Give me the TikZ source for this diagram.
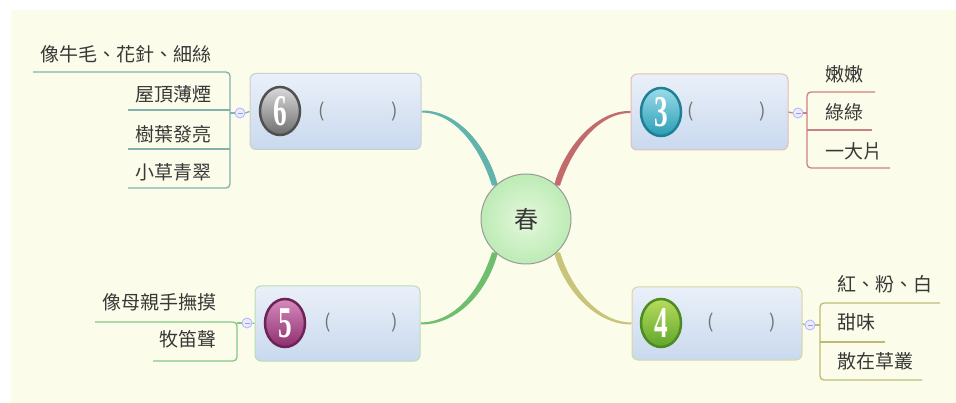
\documentclass[tikz,border=0pt]{standalone}
\usepackage{fontspec}
\setmainfont{Noto Sans CJK TC}
\newfontfamily\numfont[FakeStretch=0.62]{Liberation Serif}
\usetikzlibrary{calc,shapes.geometric}
\pgfdeclarelayer{bg}
\pgfsetlayers{bg,main}
\definecolor{cream}{HTML}{FCFCEA}
\definecolor{txt}{HTML}{383838}
\definecolor{cteal}{HTML}{62B3AC}
\definecolor{cred}{HTML}{C26B6B}
\definecolor{cgreen}{HTML}{6EBE6E}
\definecolor{colive}{HTML}{C8C47A}
\definecolor{boxtop}{HTML}{EAF0F9}
\definecolor{boxbot}{HTML}{C9D9EE}
\definecolor{ctrin}{HTML}{E4F8DC}
\definecolor{ctrout}{HTML}{BDEBB5}
\tikzset{
  leaf/.style={font=\fontsize{19}{22}\selectfont, text=txt, inner sep=0pt},
  topbox/.style={rectangle, rounded corners=6pt, minimum width=#1, top color=boxtop, bottom color=boxbot, line width=1pt, inner sep=0pt, minimum height=76pt},
  paren/.style={font=\fontsize{19}{22}\selectfont, text=black!55, inner sep=0pt},
  icon/.style={ellipse, minimum width=40pt, minimum height=48pt, inner sep=0pt, line width=2.5pt, text=white, font=\numfont\bfseries\fontsize{44}{44}\selectfont},
  minus/.style={circle, minimum size=10pt, inner sep=0pt, fill=blue!8, draw=blue!30, line width=0.8pt},
  uline/.style={line width=1.3pt, rounded corners=4pt},
}
\begin{document}
\begin{tikzpicture}[x=1pt,y=-1pt]
\useasboundingbox (0,0) rectangle (956,403);
\begin{pgfonlayer}{bg}
\fill[white] (0,0) rectangle (956,403);
\fill[cream] (11,10) rectangle (956,403);
\end{pgfonlayer}

% center
\node[circle, minimum size=90pt, inner sep=0pt, draw=black!40, line width=1pt, shading=radial, inner color=ctrin, outer color=ctrout, text=txt, font=\fontsize{24}{26}\selectfont] (spring) at (526,219) {春};

% boxes
\node[topbox=171pt, draw=cteal!40!black!25!white] (b6) at (335.5,111.5) {};
\node[topbox=157pt, draw=cred!45!white] (b3) at (709.5,112) {};
\node[topbox=165pt, draw=cgreen!50!white, minimum height=75pt] (b5) at (337.5,323.5) {};
\node[topbox=170pt, draw=colive!70!white, minimum height=73pt] (b4) at (717,323.5) {};

% icons
\definecolor{g6a}{HTML}{DADADA}\definecolor{g6b}{HTML}{6E6E6E}\definecolor{g6c}{HTML}{505050}
\definecolor{g3a}{HTML}{9ADCE8}\definecolor{g3b}{HTML}{2A9DB5}\definecolor{g3c}{HTML}{1E7F95}
\definecolor{g5a}{HTML}{D58BBE}\definecolor{g5b}{HTML}{8E2E6E}\definecolor{g5c}{HTML}{6E2356}
\definecolor{g4a}{HTML}{B8DC5E}\definecolor{g4b}{HTML}{5FA62A}\definecolor{g4c}{HTML}{4C8A22}
\node[icon, draw=g6c, top color=g6a, bottom color=g6b] (i6) at (280,111) {6};
\node[icon, draw=g3c, top color=g3a, bottom color=g3b] (i3) at (661,112) {3};
\node[icon, draw=g5c, top color=g5a, bottom color=g5b] (i5) at (285,323) {5};
\node[icon, draw=g4c, top color=g4a, bottom color=g4b] (i4) at (661,323) {4};

% parens
\node[paren] (p6l) at (322,112) {(};
\node[paren] (p6r) at (395,112) {)};
\node[paren] (p3l) at (691,112) {(};
\node[paren] (p3r) at (763,112) {)};
\node[paren] (p5l) at (328,323) {(};
\node[paren] (p5r) at (395,323) {)};
\node[paren] (p4l) at (711,323) {(};
\node[paren] (p4r) at (773,323) {)};

% branches
\begin{pgfonlayer}{bg}
\fill[cteal] ($(b6.east)+(0,-1)$) .. controls (460,110) and (489,150) .. ($(spring.133)+(3,0)$)
  -- ($(spring.133)+(-3,0)$) .. controls (482,153) and (458,113) .. ($(b6.east)+(0,1)$) -- cycle;
\fill[cred] ($(b3.west)+(0,-1)$) .. controls (595,110) and (563,150) .. ($(spring.47)+(-3,0)$)
  -- ($(spring.47)+(3,0)$) .. controls (570,153) and (596,113) .. ($(b3.west)+(0,1)$) -- cycle;
\fill[cgreen] ($(b5.east)+(0,1)$) .. controls (460,325) and (489,288) .. ($(spring.227)+(3,0)$)
  -- ($(spring.227)+(-3,0)$) .. controls (482,285) and (458,322) .. ($(b5.east)+(0,-1)$) -- cycle;
\fill[colive] ($(b4.west)+(0,1)$) .. controls (595,325) and (563,288) .. ($(spring.313)+(-3,0)$)
  -- ($(spring.313)+(3,0)$) .. controls (570,285) and (596,322) .. ($(b4.west)+(0,-1)$) -- cycle;
\end{pgfonlayer}

% collapse markers
\node[minus] (m6) at (240,113) {};
\node[minus] (m3) at (798,113) {};
\node[minus] (m5) at (247,323) {};
\node[minus] (m4) at (810,325) {};
\foreach \m in {m6,m3,m5,m4}{\draw[blue!40, line width=0.7pt] ($(\m.center)+(-2.5,0)$) -- ($(\m.center)+(2.5,0)$);}

% ---- group 6 (left top)
\node[leaf, anchor=base east] (l61) at (212,62) {像牛毛、花針、細絲};
\node[leaf, anchor=base east] (l62) at (212,102) {屋頂薄煙};
\node[leaf, anchor=base east] (l63) at (212,142) {樹葉發亮};
\node[leaf, anchor=base east] (l64) at (212,180) {小草青翠};
\coordinate (j6) at (230,113);
\begin{scope}[draw=cteal!80!black!70!white]
\draw[line width=1.3pt] (b6.west) -- (m6.east);
\draw[line width=1.3pt] (m6.west) -- (j6);
\draw[uline] (33,72) -| (230,188) -- (128,188);
\draw[uline] (230,110) -- (128,110);
\draw[uline] (230,149) -- (128,149);
\end{scope}

% ---- group 3 (right top)
\node[leaf, anchor=base west] (l31) at (825,82) {嫩嫩};
\node[leaf, anchor=base west] (l32) at (825,120) {綠綠};
\node[leaf, anchor=base west] (l33) at (825,159) {一大片};
\coordinate (j3) at (807,113);
\begin{scope}[draw=cred!85!white]
\draw[line width=1.3pt] (b3.east) -- (m3.west);
\draw[line width=1.3pt] (m3.east) -- (j3);
\draw[uline] (875,92) -| (807,168) -- (890,168);
\draw[uline] (807,130) -- (872,130);
\end{scope}

% ---- group 5 (left bottom)
\node[leaf, anchor=base east] (l51) at (217,310) {像母親手撫摸};
\node[leaf, anchor=base east] (l52) at (217,347) {牧笛聲};
\coordinate (j5) at (237,323);
\begin{scope}[draw=cgreen!85!white]
\draw[line width=1.3pt] (b5.west) -- (m5.east);
\draw[line width=1.3pt] (m5.west) -- (j5);
\draw[uline] (95,322) -| (237,361) -- (153,361);
\end{scope}

% ---- group 4 (right bottom)
\node[leaf, anchor=base west] (l41) at (837,292) {紅、粉、白};
\node[leaf, anchor=base west] (l42) at (837,330) {甜味};
\node[leaf, anchor=base west] (l43) at (837,369) {散在草叢};
\coordinate (j4) at (820,325);
\begin{scope}[draw=colive!95!black]
\draw[line width=1.3pt] (b4.east) -- (m4.west);
\draw[line width=1.3pt] (m4.east) -- (j4);
\draw[uline] (940,303) -| (820,380) -- (922,380);
\draw[uline] (820,342) -- (885,342);
\end{scope}
\end{tikzpicture}
\end{document}
